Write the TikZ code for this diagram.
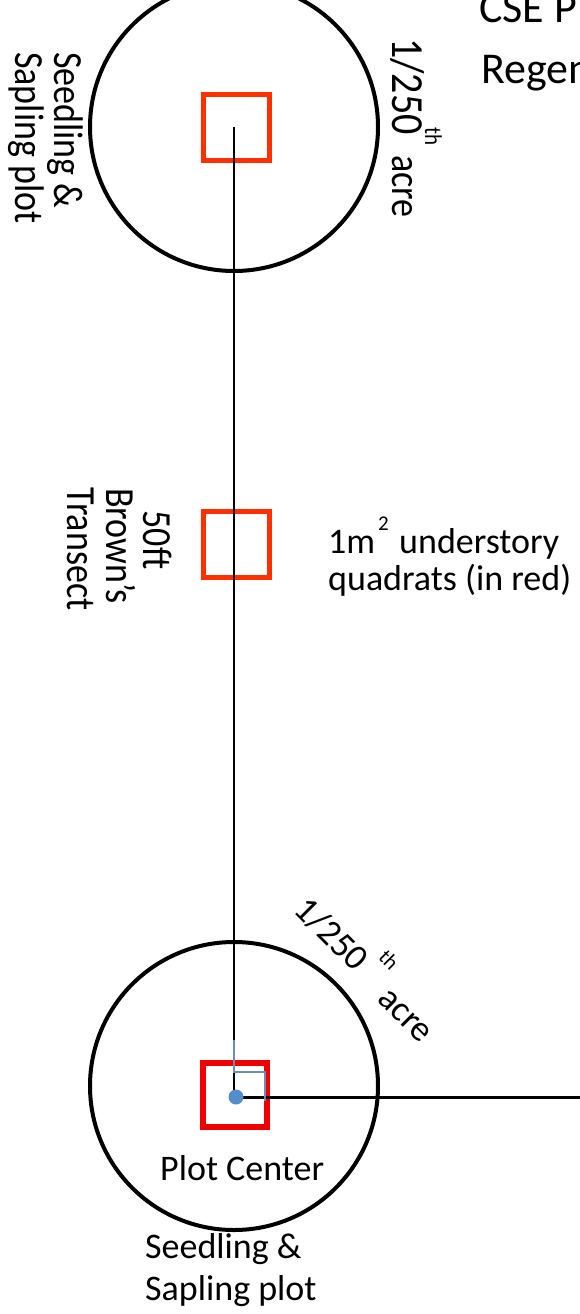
\documentclass[tikz,border=0pt]{standalone}
\usepackage{fontspec}
\usepackage{graphicx}
\setmainfont{Carlito}
\definecolor{quadred}{RGB}{255,48,0}
\definecolor{centerred}{RGB}{240,0,0}
\definecolor{dotblue}{RGB}{84,141,204}
\definecolor{markblue}{RGB}{110,140,180}
\newcommand{\tall}[1]{\scalebox{1}[1.15]{#1}}
\tikzset{
  plotcircle/.style={circle, draw=black, line width=4pt, minimum size=288pt, inner sep=0pt},
  quadrat/.style={rectangle, draw=quadred, line width=5pt, minimum size=66pt, inner sep=0pt},
  centerquad/.style={rectangle, draw=centerred, line width=6pt, minimum size=64pt, inner sep=0pt},
  transect/.style={line width=2.5pt, black},
  label/.style={font=\fontsize{36}{42}\selectfont, inner sep=0pt},
  biglabel/.style={font=\fontsize{40}{46}\selectfont, inner sep=0pt},
  sup/.style={font=\fontsize{21}{24}\selectfont, inner sep=0pt},
  heading/.style={font=\fontsize{44}{50}\selectfont, inner sep=0pt, anchor=base west},
  down/.style={rotate=-90}
}
\begin{document}
\begin{tikzpicture}[x=1pt,y=-1pt]
  \useasboundingbox (0,0) rectangle (580,1314);
  \clip (0,0) rectangle (580,1314);

  % plots and quadrats
  \node[plotcircle] (topplot) at (234,127) {};
  \node[plotcircle] (botplot) at (234,1086) {};
  \node[quadrat] (q1) at (236.5,127.5) {};
  \node[quadrat] (q2) at (236.5,544) {};
  \node[centerquad] (q3) at (235,1095) {};
  \coordinate (tstart) at (234,127);

  % plot center, transects and the right-angle mark
  \coordinate (pc) at (236,1097);
  \coordinate (tend) at (234,1097);
  \coordinate (east) at (580,1097);
  \draw[transect] (tstart) -- (tend);
  \draw[line width=3pt] (pc) -- (east);
  \node[circle, fill=dotblue, minimum size=15pt, inner sep=0pt] (dot) at (pc) {};
  \draw[markblue, line width=1.5pt] (234,1040) -- (234,1072) -- (265,1072) -- (265,1101);

  % heading, running past the frame
  \node[heading] (head1) at (479,23) {CSE Plot};
  \node[heading] (head2) at (481,83) {Regeneration};

  % top plot labels
  \node[label, down, anchor=base west] (seedtopa) at (54,52) {\tall{Seedling \&}};
  \node[label, down, anchor=base west] (seedtopb) at (16,52) {\tall{Sapling plot}};
  \node[biglabel, down, anchor=base west] (frac1) at (392,38) {\tall{1/250}};
  \node[sup, down, anchor=base west] (th1) at (425,127) {\tall{th}};
  \node[label, down, anchor=base west] (acre1) at (392,155) {\tall{acre}};

  % transect label
  \node[label, down, anchor=base] (tr1) at (143,540) {\tall{50ft}};
  \node[label, down, anchor=base] (tr2) at (106,546) {\tall{Brown’s}};
  \node[label, down, anchor=base] (tr3) at (67,549) {\tall{Transect}};

  % quadrat label
  \node[label, anchor=base west] (ql1) at (328,553) {1m};
  \node[sup, anchor=base west] (ql2) at (378,530) {2};
  \node[label, anchor=base west] (ql3) at (399,553) {understory};
  \node[label, anchor=base west] (ql4) at (328,590) {quadrats (in red)};

  % bottom plot labels
  \node[label, rotate=-45, anchor=west] (frac2) at (301,903) {1/250};
  \node[sup, rotate=-45] (th2) at (389,960) {th};
  \node[label, rotate=-45, anchor=west] (acre2) at (382,994) {acre};
  \node[label, anchor=base west] (pclbl) at (160,1180) {Plot Center};
  \node[label, anchor=base west] (seedbota) at (145,1258) {Seedling \&};
  \node[label, anchor=base west] (seedbotb) at (145,1300) {Sapling plot};
\end{tikzpicture}
\end{document}
